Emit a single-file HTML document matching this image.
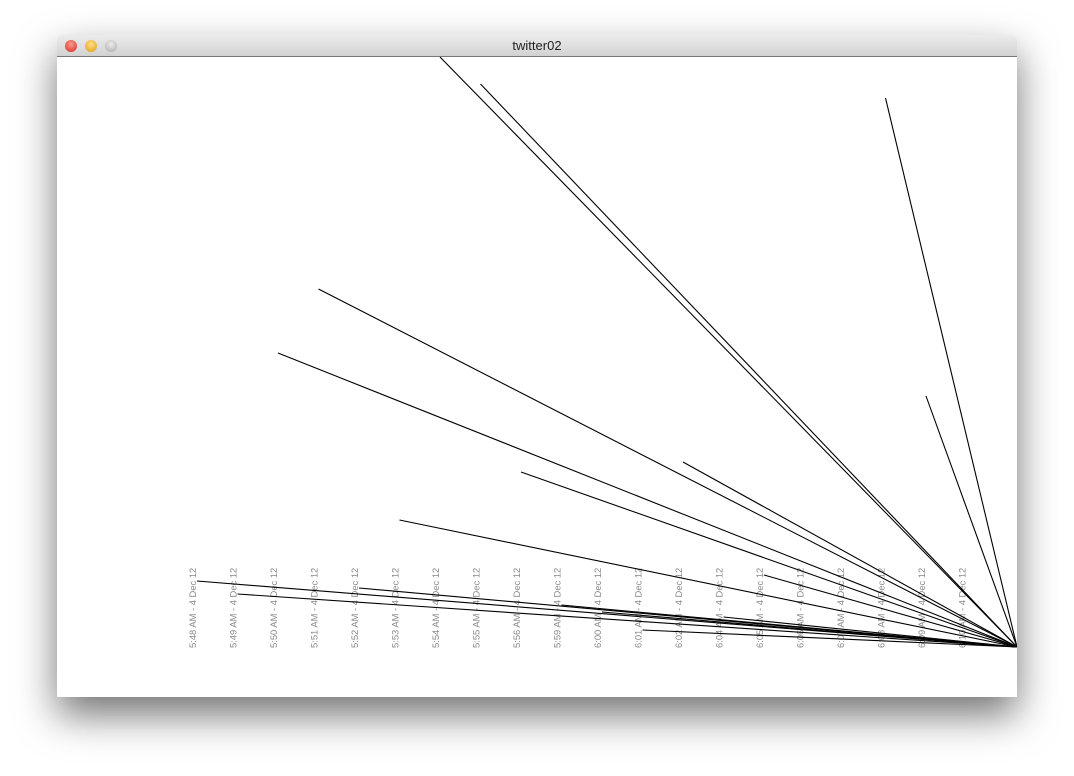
<!DOCTYPE html>
<html><head><meta charset="utf-8"><style>
body{margin:0;width:1074px;height:776px;background:#fff;position:relative;overflow:hidden;font-family:"Liberation Sans",sans-serif}
#win{position:absolute;left:57px;top:35px;width:960px;height:662px;box-shadow:0 18px 40px rgba(0,0,0,.55);border-radius:5px 5px 0 0;background:#fff}
#bar{position:absolute;left:0;top:0;width:960px;height:21px;border-radius:5px 5px 0 0;background:linear-gradient(#ececec,#d2d2d2);border-bottom:1px solid #777}
.dot{position:absolute;top:5px;width:12px;height:12px;border-radius:50%}
#title{position:absolute;left:0;right:0;top:3px;text-align:center;font-size:13px;color:#222}
svg{position:absolute;left:0;top:22px}
</style></head><body>
<div id="win">
<div id="bar">
<div class="dot" style="left:8px;background:radial-gradient(circle at 50% 35%,#ff9a90,#d8271c)"></div>
<div class="dot" style="left:28px;background:radial-gradient(circle at 50% 35%,#ffe08a,#e39a0a)"></div>
<div class="dot" style="left:48px;background:radial-gradient(circle at 50% 35%,#eee,#a8a8a8)"></div>
<div id="title">twitter02</div>
</div>
<svg id="chart" width="960" height="640"></svg>
</div>
<script>
const labels=["5:48 AM - 4 Dec 12","5:49 AM - 4 Dec 12","5:50 AM - 4 Dec 12","5:51 AM - 4 Dec 12","5:52 AM - 4 Dec 12","5:53 AM - 4 Dec 12","5:54 AM - 4 Dec 12","5:55 AM - 4 Dec 12","5:56 AM - 4 Dec 12","5:59 AM - 4 Dec 12","6:00 AM - 4 Dec 12","6:01 AM - 4 Dec 12","6:02 AM - 4 Dec 12","6:04 AM - 4 Dec 12","6:05 AM - 4 Dec 12","6:06 AM - 4 Dec 12","6:07 AM - 4 Dec 12","6:08 AM - 4 Dec 12","6:09 AM - 4 Dec 12","6:10 AM - 4 Dec 12"];
const tweetIndex=[6,7,17,3,2,18,12,8,5,0,1,4,9,11,13,14,10];
const tweetValue=[590,563,549,358,294,251,185,175,127,66,53,59,42,17,30,72,35];
const NS="http://www.w3.org/2000/svg",svg=document.getElementById('chart');
const x=i=>140+i*40.5, y=v=>590-v;
labels.forEach((l,i)=>{
 const t=document.createElementNS(NS,'text');
 
 
 t.setAttribute('transform',`translate(${x(i)-1},591) rotate(-90)`);
 t.setAttribute('font-size','9.4');t.setAttribute('fill','#888');
 t.setAttribute('font-family','Liberation Sans, sans-serif');
 t.textContent=l;svg.appendChild(t);
});
tweetIndex.forEach((ix,k)=>{
 const ln=document.createElementNS(NS,'line');
 
 
 ln.setAttribute('x1',x(ix));ln.setAttribute('y1',y(tweetValue[k]));
 ln.setAttribute('x2',960);ln.setAttribute('y2',590);
 ln.setAttribute('stroke','#000');ln.setAttribute('stroke-width','1.1');
 svg.appendChild(ln);
});
</script>
</body></html>
